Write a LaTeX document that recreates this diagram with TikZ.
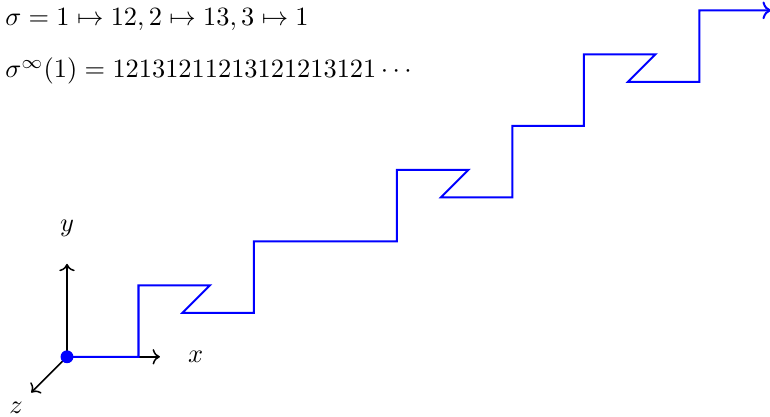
\documentclass[tikz,border=0pt]{standalone}
\usepackage{amsmath,amssymb}
\usetikzlibrary{arrows.meta,calc}
\definecolor{walk}{RGB}{0,0,255}

\begin{document}
\begin{tikzpicture}[axis/.style={->,semithick},
                    step walk/.style={->,walk,thick},
                    every node/.style={scale=1.05,transform shape}]
        \useasboundingbox (-0.937,-0.84) rectangle (9.832,4.99);
        \coordinate (O) at (0,0,0);
        \coordinate (X) at (1.3,0,0);
        \coordinate (Y) at (0,1.3,0);
        \coordinate (Z) at (0,0,1.3);
        \draw[axis] (O) -- (X);
        \draw[axis] (O) -- (Y);
        \draw[axis] (O) -- (Z);
        \node (xlab) at (1.8,0,0) {$x$};
        \node (ylab) at (0,1.8,0) {$y$};
        \node (zlab) at (0,0,1.85) {$z$};
        % word 12131211213121213121
        \draw[step walk] (O) -- ++(1,0,0) -- ++(0,1,0) -- ++(1,0,0) -- ++(0,0,1)
          -- ++(1,0,0) -- ++(0,1,0) -- ++(1,0,0) -- ++(1,0,0) -- ++(0,1,0)
          -- ++(1,0,0) -- ++(0,0,1) -- ++(1,0,0) -- ++(0,1,0) -- ++(1,0,0)
          -- ++(0,1,0) -- ++(1,0,0) -- ++(0,0,1) -- ++(1,0,0) -- ++(0,1,0)
          -- ++(1,0,0);
        \fill[walk] (O) circle (0.09);
        \node[anchor=base west,inner sep=0pt] (subst) at (-0.87,4.63)
          {$\sigma=1\mapsto12,2\mapsto13,3\mapsto1$};
        \node[anchor=base west,inner sep=0pt] (fixpt) at (-0.87,3.90)
          {$\sigma^\infty(1)=12131211213121213121\cdots$};
      \end{tikzpicture}
\end{document}
